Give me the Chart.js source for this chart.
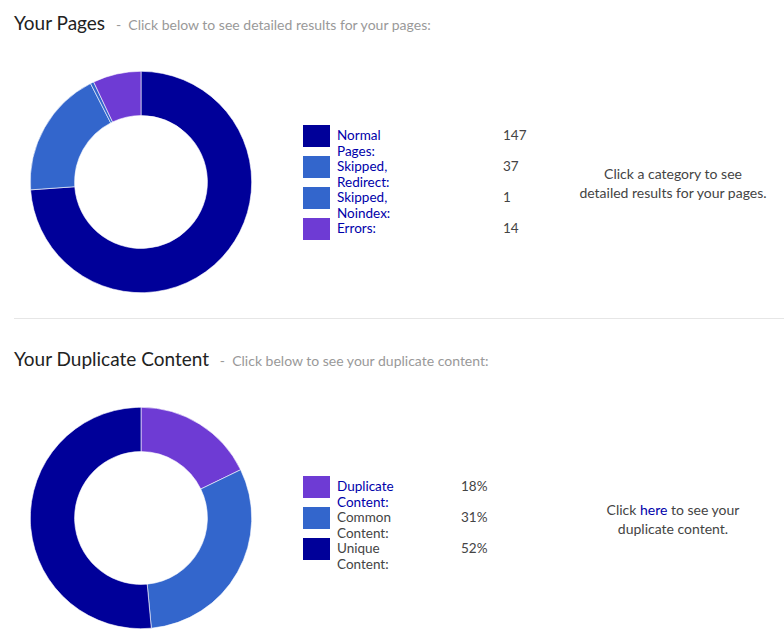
<!DOCTYPE html>
<html><head><meta charset="utf-8">
<script src="https://cdn.jsdelivr.net/npm/chart.js@4"></script>
<style>
body{margin:0;font-family:Lato,"Open Sans",sans-serif;background:#fff;color:#444;width:784px;height:644px;position:relative;overflow:hidden}
.h{position:absolute;left:14px;font-size:19px;color:#222}
.h span{font-size:14px;color:#999;margin-left:6px}
.cv{position:absolute;left:30px;width:222px;height:222px}
.leg{position:absolute;left:303px;font-size:13.5px}
.row{position:relative;height:31px}
.sw{position:absolute;left:0;top:0;width:27px;height:22px}
.lb{position:absolute;left:34px;top:2px}
.vl{position:absolute;top:2px}
.note{position:absolute;text-align:center;font-size:14px;color:#444;line-height:19px}
hr{position:absolute;left:14px;width:770px;top:318px;border:0;border-top:1px solid #e6e6e6;margin:0}
</style></head><body>
<div class="h" style="top:11px">Your Pages <span>- &nbsp;Click below to see detailed results for your pages:</span></div>
<div class="cv" style="top:71px"><canvas id="c1"></canvas></div>
<div class="leg" id="l1" style="top:125px"></div>
<div class="note" style="left:560px;top:164px;width:226px">Click a category to see<br>detailed results for your pages.</div>
<hr>
<div class="h" style="top:347px">Your Duplicate Content <span>- &nbsp;Click below to see your duplicate content:</span></div>
<div class="cv" style="top:407px"><canvas id="c2"></canvas></div>
<div class="leg" id="l2" style="top:476px"></div>
<div class="note" style="left:575px;top:500px;width:196px">Click <span style="color:#00a">here</span> to see your<br>duplicate content.</div>
<script>
const pageLabels=["Normal Pages:","Skipped, Redirect:","Skipped, Noindex:","Errors:"];
const pageValues=[147,37,1,14];
const pageColors=["#000099","#3366cc","#3366cc","#6e3bd4"];
const dupLabels=["Duplicate Content:","Common Content:","Unique Content:"];
const dupValues=[18,31,52];
const dupColors=["#6e3bd4","#3366cc","#000099"];
function donut(id,vals,cols){
 new Chart(document.getElementById(id),{type:'doughnut',
 data:{labels:vals.map(String),datasets:[{data:vals,backgroundColor:cols,borderWidth:0.6,borderColor:'#ffffff'}]},
 options:{responsive:true,maintainAspectRatio:false,animation:false,cutout:'60%',
 plugins:{legend:{display:false},tooltip:{enabled:false}}}});
}
donut('c1',pageValues,pageColors);
donut('c2',dupValues,dupColors);
function legend(id,labels,vals,cols,suffix,vx,linkIdx){
 const el=document.getElementById(id);
 labels.forEach((l,i)=>{
  const r=document.createElement('div');r.className='row';
  r.innerHTML=`<div class="sw" style="background:${cols[i]}"></div><div class="lb" style="color:${linkIdx.includes(i)?'#00a':'#444'}">${l}</div><div class="vl" style="left:${vx}px">${vals[i]}${suffix}</div>`;
  el.appendChild(r);
 });
}
legend('l1',pageLabels,pageValues,pageColors,'',200,[0,1,2,3]);
legend('l2',dupLabels,dupValues,dupColors,'%',158,[0]);
</script>
</body></html>
